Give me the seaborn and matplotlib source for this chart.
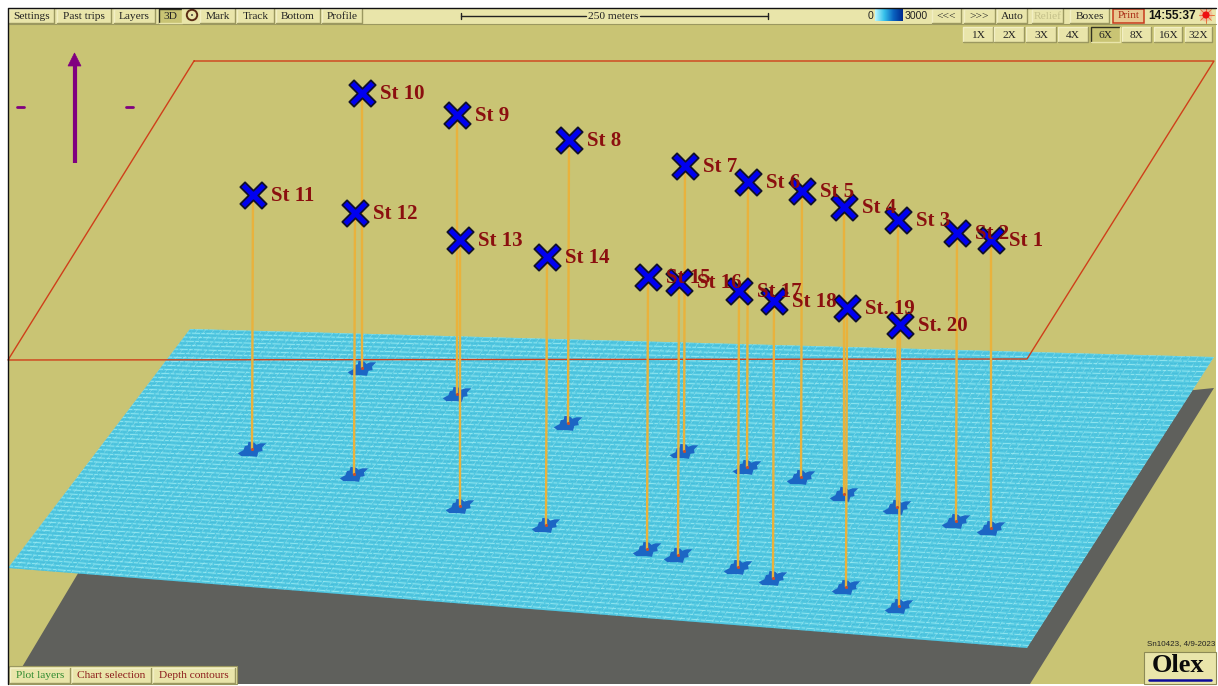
import numpy as np
import pandas as pd
import matplotlib.pyplot as plt
import seaborn as sns
from matplotlib.path import Path
from matplotlib.patches import Polygon, Rectangle, Circle
from matplotlib.collections import LineCollection

stations = ["St 1", "St 2", "St 3", "St 4", "St 5", "St 6", "St 7", "St 8", "St 9", "St 10",
            "St 11", "St 12", "St 13", "St 14", "St 15", "St 16", "St 17", "St 18", "St. 19", "St. 20"]
top_x = [991, 957, 898, 844, 802, 748, 685, 569, 457, 362, 253, 355, 460, 547, 648, 679, 739, 774, 847, 900]
top_y = [240, 233, 220, 207, 191, 182, 166, 140, 115, 93, 195, 213, 240, 257, 277, 282, 291, 301, 308, 325]
bottom_x = [991, 956, 897, 844, 801, 747, 684, 568, 457, 362, 252, 354, 460, 546, 647, 678, 738, 773, 846, 899]
bottom_y = [528, 521, 507, 494, 477, 467, 451, 423, 394, 368, 449, 474, 506, 525, 549, 555, 567, 578, 587, 606]

top_buttons = ["Settings", "Past trips", "Layers", "Mark", "Track", "Bottom", "Profile"]
top_left = [9, 57, 114, 200, 237, 276, 322]
top_right = [54, 111, 155, 235, 274, 320, 362]
nav_buttons = ["<<<", ">>>", "Auto", "Relief", "Boxes"]
nav_left = [932, 964, 997, 1032, 1070]
nav_right = [961, 995, 1027, 1063, 1109]
zoom_labels = ["1X", "2X", "3X", "4X", "6X", "8X", "16X", "32X"]
zoom_left = [963, 994, 1026, 1058, 1091, 1122, 1154, 1185]
zoom_right = [993, 1024, 1056, 1088, 1120, 1151, 1182, 1212]
bottom_buttons = ["Plot layers", "Chart selection", "Depth contours"]
bottom_left = [10, 72, 153]
bottom_right = [70, 151, 235]
bottom_colors = ["#2f8a2f", "#8b1a1a", "#8b1a1a"]

BG = "#c9c474"
BAR = "#e9e5aa"
SERIF = "Liberation Serif"

sns.set_theme(style="white")
plt.rcParams["font.family"] = [SERIF, "DejaVu Sans"]

fig = plt.figure(figsize=(12.18, 6.86), dpi=100, facecolor="white")
ax = fig.add_axes([0, 0, 1, 1])
ax.set_xlim(0, 1218)
ax.set_ylim(686, 0)
ax.axis("off")


def button(x0, x1, y0, y1, label, color="#222222", pressed=False, size=8.2, face=BAR):
    ax.add_patch(Rectangle((x0, y0), x1 - x0, y1 - y0, fc=BG if pressed else face, ec="none", zorder=6))
    top_col, low_col = ("#333322", "#e9e5aa") if pressed else ("#f2efc4", "#9b9860")
    ax.plot([x0, x0, x1], [y1, y0, y0], color=top_col, lw=1, zorder=7)
    ax.plot([x0, x1, x1], [y1, y1, y0], color=low_col, lw=1, zorder=7)
    ax.text((x0 + x1) / 2, (y0 + y1) / 2 + 0.5, label, color=color, fontsize=size, ha="center",
            va="center", zorder=8)


# window background and frame
ax.add_patch(Rectangle((8, 8), 1208, 676, fc=BG, ec="none", zorder=0))
ax.plot([7.5, 7.5, 1216], [684, 7.5, 7.5], color="#111111", lw=1, zorder=9)

# shadow under the sea floor
ax.add_patch(Polygon([(80, 570), (600, 450), (1214, 388), (1030, 684), (12, 684)], fc="#5f605c", ec="none", zorder=1))

# sea floor with its grid texture
corners = np.array([(190, 329), (1214, 357), (1027, 648), (8, 568)], dtype=float)
floor = Polygon(corners, fc="#52c8e1", ec="none", zorder=2)
ax.add_patch(floor)
tt = np.linspace(0, 1, 120)
left_edge = corners[0] + np.outer(tt, corners[3] - corners[0])
right_edge = corners[1] + np.outer(tt, corners[2] - corners[1])
for offset, col, alpha, width in [(0, "#9aeaf2", 0.9, 0.65), (1, "#38acd0", 0.5, 0.5)]:
    segs = [[left_edge[i], right_edge[i]] for i in range(offset, len(tt), 2)]
    lc = LineCollection(segs, colors=col, linewidths=width, alpha=alpha, linestyles=[(0, (4, 1.5, 9, 1.5))], zorder=2)
    ax.add_collection(lc)
    lc.set_clip_path(floor)
ss = np.linspace(0, 1, 130)
far_edge = corners[0] + np.outer(ss, corners[1] - corners[0])
near_edge = corners[3] + np.outer(ss, corners[2] - corners[3])
lc = LineCollection([[far_edge[i], near_edge[i]] for i in range(len(ss))], colors="#b5f0f6",
                    linewidths=0.5, alpha=0.45, linestyles=[(0, (7, 5))], zorder=2)
ax.add_collection(lc)
lc.set_clip_path(floor)

# blue depressions on the floor
blotch = Path([(-1, -0.3), (-0.6, -0.08), (-0.5, 0.2), (-0.3, 0.25), (-0.25, 0.5), (0.15, 0.45), (0.3, 0.3),
               (0.6, 0.4), (1, 0.4), (0.7, 0.1), (0.75, -0.15), (0.45, -0.2), (0.35, -0.55), (-0.05, -0.5),
               (-0.3, -0.5), (-0.75, -0.5), (-1, -0.3)], closed=True)
df = pd.DataFrame({"station": stations, "top_x": top_x, "top_y": top_y, "bottom_x": bottom_x, "bottom_y": bottom_y})
sns.scatterplot(data=df, x="bottom_x", y="bottom_y", marker=blotch, s=420, color="#1c66c4",
                edgecolor="none", linewidth=0, ax=ax, zorder=3, legend=False)

# frame of the upper plane
plane_x = [194, 1214, 1027, 8, 194]
plane_y = [61, 61, 359, 360, 61]
ax.plot(plane_x, plane_y, color="#cf3f1a", lw=1, zorder=4)

# vertical lines from stations to the bottom
long_df = pd.concat([
    df[["station", "top_x", "top_y"]].set_axis(["station", "x", "y"], axis=1),
    df[["station", "bottom_x", "bottom_y"]].set_axis(["station", "x", "y"], axis=1),
])
sns.lineplot(data=long_df, x="x", y="y", units="station", estimator=None, sort=False, color="#e9b23c",
             lw=1.7, ax=ax, zorder=4, legend=False)
sns.scatterplot(data=df, x="bottom_x", y="bottom_y", s=5, color="#c8502c", linewidth=0, ax=ax, zorder=4, legend=False)

# station crosses and names
w = 0.36
cross = Path([(-1, -1 + w), (-1 + w, -1), (0, -w), (1 - w, -1), (1, -1 + w), (w, 0), (1, 1 - w), (1 - w, 1),
              (0, w), (-1 + w, 1), (-1, 1 - w), (-w, 0), (-1, -1 + w)], closed=True)
sns.scatterplot(data=df, x="top_x", y="top_y", marker=cross, s=360, color="#0000f0", edgecolor="#10102a",
                linewidth=1.3, ax=ax, zorder=5, legend=False)
for name, x, y in zip(stations, top_x, top_y):
    ax.text(x + 18, y + 1, name, color="#8b0f0f", fontsize=15, fontweight="bold", va="center", ha="left", zorder=5)

# north arrow
ax.plot([74.5, 74.5], [60, 163], color="#800080", lw=3, solid_capstyle="butt", zorder=5)
ax.add_patch(Polygon([(74.5, 53), (81, 66), (68, 66)], fc="#800080", ec="#800080", lw=0.5, zorder=5))
ax.plot([17, 24], [106.5, 106.5], color="#800080", lw=2, zorder=5)
ax.plot([126, 133], [106.5, 106.5], color="#800080", lw=2, zorder=5)

# top toolbar
ax.add_patch(Rectangle((8, 8), 1208, 16, fc=BAR, ec="none", zorder=5))
ax.plot([8, 1216], [24, 24], color="#9b9860", lw=0.8, zorder=6)
for name, x0, x1 in zip(top_buttons, top_left, top_right):
    button(x0, x1, 9, 23, name)
button(159, 182, 9, 23, "3D", pressed=True)
ax.add_patch(Circle((192, 15), 5.2, fc=BAR, ec="#5a2a14", lw=1.4, zorder=7))
ax.add_patch(Circle((192, 15), 0.9, fc="#222222", ec="none", zorder=8))

# scale bar
ax.plot([461, 586], [16, 16], color="#222222", lw=1, zorder=7)
ax.plot([640, 768], [16, 16], color="#222222", lw=1, zorder=7)
ax.plot([461, 461], [13, 19], color="#222222", lw=1, zorder=7)
ax.plot([768, 768], [13, 19], color="#222222", lw=1, zorder=7)
ax.text(613, 16.5, "250 meters", color="#222222", fontsize=8.2, ha="center", va="center", zorder=8)

# depth colour scale
ax.text(870, 16, "0", color="#222222", fontsize=7.6, family="Liberation Sans", ha="center", va="center", zorder=8)
ax.imshow(np.linspace(0, 1, 60).reshape(1, -1), extent=(875, 903, 21, 9), aspect="auto", zorder=7,
          cmap=sns.blend_palette(["#b8f6ff", "#35c0ea", "#0a62c0", "#002a90"], as_cmap=True))
ax.set_xlim(0, 1218)
ax.set_ylim(686, 0)
ax.text(905, 16, "3000", color="#222222", fontsize=7.6, family="Liberation Sans", ha="left", va="center", zorder=8)

for name, x0, x1 in zip(nav_buttons, nav_left, nav_right):
    button(x0, x1, 9, 23, name, color="#c4c08a" if name == "Relief" else "#222222")
ax.add_patch(Rectangle((1113, 9), 31, 14, fc="#e9c890", ec="#c8391c", lw=1.1, zorder=7))
ax.text(1128.5, 16, "Print", color="#a82a14", fontsize=8.2, ha="center", va="center", zorder=8)
ax.text(1172.5, 16, "14:55:37", color="#111111", fontsize=8.6, family="Liberation Sans", fontweight="bold",
        ha="center", va="center", zorder=8)
ax.add_patch(Circle((1206, 15), 6.5, fc="#eec09a", ec="none", zorder=7))
for ang in np.deg2rad(np.arange(0, 360, 45)):
    ax.plot([1206, 1206 + 7.5 * np.cos(ang)], [15, 15 + 7.5 * np.sin(ang)], color="#e8703c", lw=0.7, zorder=7)
ax.add_patch(Circle((1206, 15), 3.6, fc="#ee1010", ec="none", zorder=8))

# zoom level buttons
for name, x0, x1 in zip(zoom_labels, zoom_left, zoom_right):
    button(x0, x1, 27, 42, name, pressed=name == "6X")

# bottom buttons
ax.add_patch(Rectangle((9, 666), 228, 18, fc=BAR, ec="#9b9860", lw=0.8, zorder=5))
for name, x0, x1, col in zip(bottom_buttons, bottom_left, bottom_right, bottom_colors):
    button(x0, x1, 668, 683, name, color=col)

# logo and serial
ax.text(1215, 644, "Sn10423, 4/9-2023", color="#222222", fontsize=5.8, family="Liberation Sans", ha="right",
        va="center", zorder=6)
ax.add_patch(Rectangle((1144, 652), 72, 32, fc=BAR, ec="#8d8a55", lw=0.8, zorder=6))
ax.text(1178.5, 666, "Olex", color="#0a0a0a", fontsize=19, fontweight="bold", ha="center", va="center", zorder=7)
ax.plot([1149, 1211], [679.5, 679.5], color="#0a0a9a", lw=1.8, zorder=7)

fig.savefig("out.png", dpi=100, facecolor="white")
